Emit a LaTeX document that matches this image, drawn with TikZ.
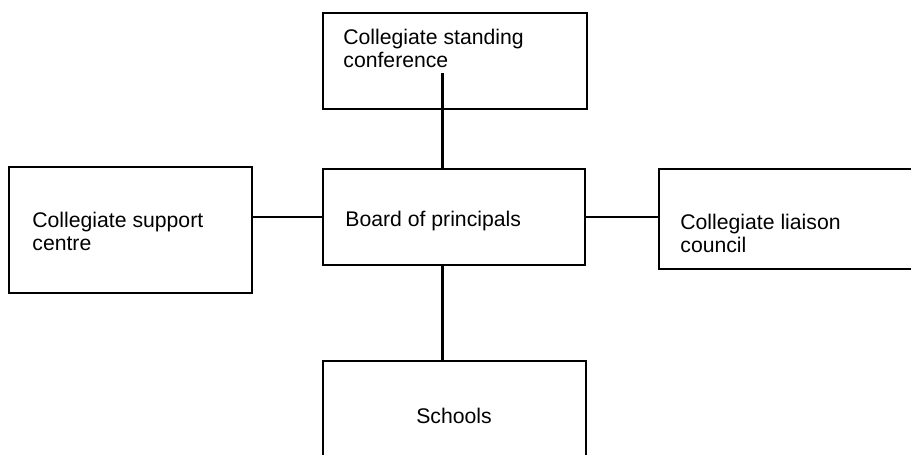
\documentclass[tikz,border=0pt]{standalone}
\usepackage{fontspec}
\setmainfont{Liberation Sans}
\tikzset{
    box/.style={draw, line width=1.2pt, inner sep=0pt, outer sep=0pt},
    lbl/.style={inner sep=0pt, align=left, anchor=base west, font=\fontsize{10.6}{11.5}\selectfont},
    link/.style={line width=1.1pt}
}
\begin{document}
\begin{tikzpicture}[x=0.5pt, y=-0.5pt]
        \useasboundingbox (0, 0) rectangle (911, 455);
        \node [box, minimum width=132pt, minimum height=48pt] (conf) at (455, 61) {};
        \node [box, minimum width=121.5pt, minimum height=63pt] (support) at (130.5, 230) {};
        \node [box, minimum width=131pt, minimum height=48pt] (board) at (454, 217) {};
        \node [box, minimum width=138pt, minimum height=50pt] (liaison) at (797, 219) {};
        \node [box, minimum width=131.5pt, minimum height=55pt] (schools) at (454.5, 416) {};
        
        \node [lbl] (conftext) at (343, 67) {Collegiate standing\\conference};
        \node [lbl] (supporttext) at (32, 250) {Collegiate support\\centre};
        \node [lbl] (boardtext) at (345, 226) {Board of principals};
        \node [lbl] (liaisontext) at (680, 252) {Collegiate liaison\\council};
        \node [lbl, anchor=base] (schoolstext) at (454, 423) {Schools};
        
        \coordinate (spine) at (442.5, 73);
        \draw [link] (spine) -- (spine |- board.north);
        \draw [link] (spine |- board.south) -- (spine |- schools.north);
        \draw [link] (board.west) -- (board.west -| support.east);
        \draw [link] (board.east) -- (board.east -| liaison.west);
\end{tikzpicture}
\end{document}
